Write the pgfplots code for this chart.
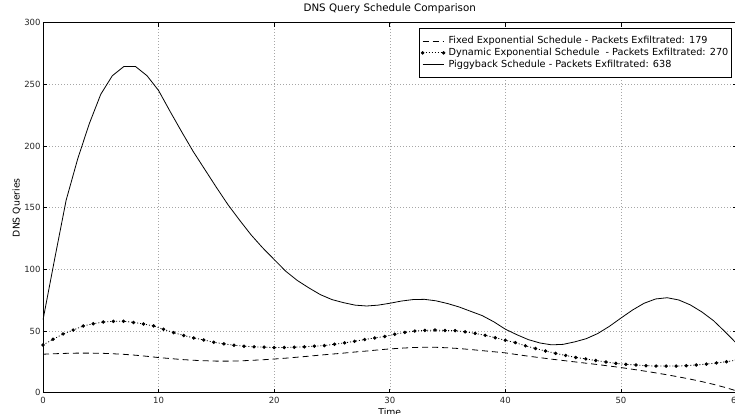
\documentclass[border=0pt]{standalone}
\usepackage{pgfplots}
\pgfplotsset{compat=1.18}
\usepackage{fontspec}
\setmainfont{DejaVu Sans}

% Query counts per time step for each schedule
\pgfplotstableread{
x y
0 31.2
1 31.6
2 31.9
3 32.1
4 32.1
5 32.0
6 31.6
7 31.1
8 30.4
9 29.5
10 28.5
11 27.7
12 26.9
13 26.3
14 25.9
15 25.6
16 25.6
17 25.8
18 26.2
19 26.7
20 27.3
21 28.0
22 28.8
23 29.6
24 30.5
25 31.3
26 32.1
27 33.0
28 33.8
29 34.7
30 35.5
31 36.1
32 36.6
33 36.9
34 36.8
35 36.4
36 35.8
37 35.0
38 34.1
39 33.2
40 32.3
41 30.9
42 29.6
43 28.4
44 27.2
45 26.1
46 25.0
47 23.9
48 22.8
49 21.6
50 20.4
51 19.0
52 17.6
53 16.1
54 14.5
55 12.8
56 11.0
57 9.0
58 6.8
59 4.3
60 1.5
}\fixedsched

\pgfplotstableread{
x y
0.00 38.7
0.87 43.3
1.74 47.6
2.61 50.8
3.48 54.1
4.35 55.9
5.22 57.3
6.09 57.9
6.96 57.9
7.83 57.0
8.70 55.7
9.57 54.1
10.43 51.4
11.30 48.7
12.17 46.4
13.04 44.4
13.91 42.8
14.78 40.9
15.65 39.6
16.52 38.5
17.39 37.7
18.26 37.2
19.13 36.9
20.00 36.6
20.87 36.6
21.74 36.9
22.61 37.2
23.48 37.7
24.35 38.2
25.22 39.3
26.09 40.4
26.96 41.7
27.83 43.1
28.70 44.4
29.57 45.6
30.43 47.4
31.30 48.9
32.17 50.0
33.04 50.5
33.91 50.8
34.78 50.5
35.65 50.3
36.52 49.4
37.39 48.1
38.26 46.5
39.13 44.6
40.00 42.5
40.87 40.6
41.74 38.0
42.61 35.8
43.48 33.8
44.35 31.9
45.22 30.2
46.09 28.6
46.96 27.4
47.83 26.1
48.70 24.9
49.57 23.8
50.43 23.0
51.30 22.5
52.17 21.9
53.04 21.6
53.91 21.6
54.78 21.6
55.65 21.9
56.52 22.5
57.39 23.2
58.26 24.1
59.13 25.1
60.00 26.5
}\dynamicsched

\pgfplotstableread{
x y
0 59
1 108
2 156
3 189.5
4 218
5 242
6 257
7 264.5
8 264.5
9 257
10 245
11 228
12 211.5
13 195.5
14 181
15 166.5
16 152.5
17 140
18 128
19 117.5
20 108
21 98.5
22 91
23 85
24 79.5
25 75.5
26 73
27 71
28 70.3
29 71
30 72.5
31 74.3
32 75.5
33 75.7
34 74.5
35 72.3
36 69.5
37 66
38 62.5
39 57.5
40 51.5
41 47
42 43
43 40.3
44 38.8
45 39.2
46 41.2
47 43.8
48 48
49 53.8
50 60.5
51 67
52 72.5
53 76
54 77
55 75.2
56 71.2
57 65.5
58 58.5
59 49.5
60 40
}\piggyback

\begin{document}
\begin{tikzpicture}
\useasboundingbox (0,0) rectangle (735pt,414pt);
\clip (0,0) rectangle (735pt,414pt);
\begin{axis}[
  at={(43pt,21.3pt)}, anchor=south west,
  scale only axis, width=693.5pt, height=370pt,
  xmin=0, xmax=60, ymin=0, ymax=300,
  xtick={0,10,...,60}, ytick={0,50,...,300},
  tick align=inside, major tick length=4pt,
  tick style={black, line width=0.6pt},
  axis line style={black, line width=0.9pt},
  grid=major,
  major grid style={gray!70, line width=0.5pt, dash pattern=on 1pt off 2pt},
  /pgf/number format/assume math mode=true,
  ticklabel style={font=\fontsize{8.5}{10}\selectfont, text=black!85},
  yticklabel style={anchor=east, inner sep=0pt, xshift=-2.3pt},
  xticklabel style={anchor=north, inner sep=0pt, yshift=-4pt},
  title={DNS Query Schedule Comparison},
  title style={at={(0.5,1)}, anchor=base, yshift=4.7pt, inner sep=0pt,
    font=\fontsize{10.3}{12}\selectfont},
  xlabel={Time}, ylabel={DNS Queries},
  label style={font=\fontsize{9.3}{11}\selectfont},
  xlabel style={at={(axis description cs:0.5,0)}, anchor=north, inner sep=0pt, yshift=-15.5pt},
  ylabel style={at={(axis description cs:-0.038,0.5)}, anchor=center, inner sep=0pt},
  legend cell align=left,
  legend image code/.code={
    \draw[#1] plot coordinates {(0pt,0pt) (21pt,0pt)};
    \path (24pt,0pt);
  },
  legend style={at={(rel axis cs:0.9931,0.9865)}, anchor=north east,
    draw=black, line width=0.8pt, fill=white,
    font=\fontsize{9.7}{11.5}\selectfont,
    nodes={inner sep=1.5pt},
    inner xsep=1.5pt, inner ysep=7pt},
]
\addplot[black, line width=0.8pt, dash pattern=on 6pt off 4pt] table {\fixedsched};
\addlegendentry{Fixed Exponential Schedule - Packets Exfiltrated: 179}
\addplot[black, line width=0.8pt, dash pattern=on 1pt off 2pt,
  mark=*, mark size=1.3pt, mark options={solid}] table {\dynamicsched};
\addlegendentry{Dynamic Exponential Schedule\ \ - Packets Exfiltrated: 270}
\addplot[black, line width=0.8pt] table {\piggyback};
\addlegendentry{Piggyback Schedule - Packets Exfiltrated: 638}
\end{axis}
\end{tikzpicture}
\end{document}
